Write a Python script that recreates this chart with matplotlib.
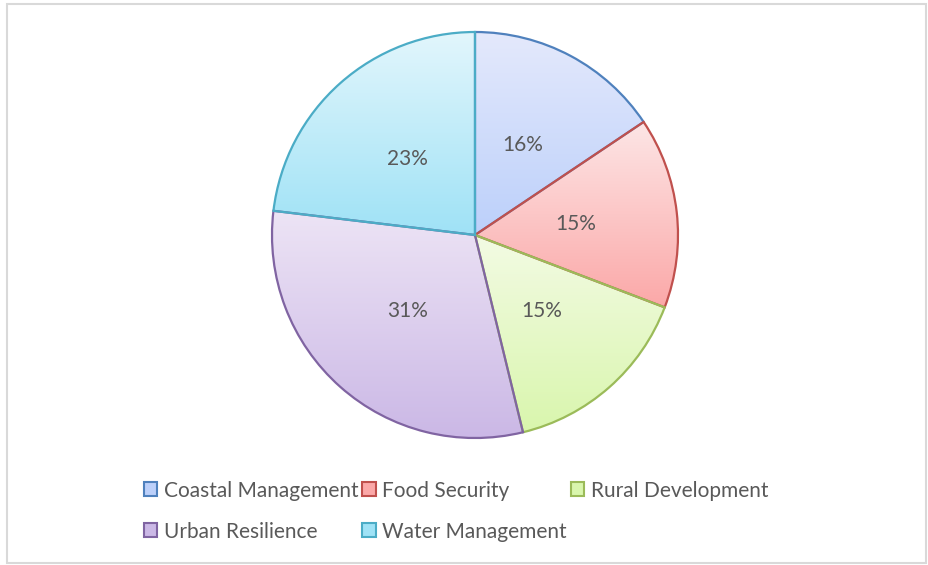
import numpy as np
import matplotlib.pyplot as plt
from matplotlib.colors import LinearSegmentedColormap
from matplotlib.patches import Rectangle, Patch

# Data
categories = ['Coastal Management', 'Food Security', 'Rural Development',
              'Urban Resilience', 'Water Management']
shares = [15.6, 15.2, 15.4, 30.7, 23.1]

# light top -> stronger bottom, plus outline colour
top_colors = ['#e4e9fc', '#fde6e6', '#f3fbe4', '#ede4f5', '#e2f6fc']
bottom_colors = ['#bcd0fa', '#fba8a8', '#d9f6ad', '#cbb8e6', '#9fe2f6']
edge_colors = ['#4f81bd', '#c0504d', '#9bbb59', '#8064a2', '#4bacc6']

W, H = 929, 565
fig = plt.figure(figsize=(W / 100, H / 100), dpi=100)
fig.patch.set_facecolor('white')

# chart border
fig.patches.append(Rectangle((7 / W, 1 - 563 / H), 919 / W, 559 / H,
                             transform=fig.transFigure, fill=False,
                             edgecolor='#d9d9d9', linewidth=1.5))

# pie centre ~ (475, 235), radius ~ 203 px
r = 203
ax = fig.add_axes([(475 - r) / W, 1 - (235 + r) / H, 2 * r / W, 2 * r / H])
wedges, texts = ax.pie(shares, startangle=90, counterclock=False,
                       colors=['none'] * 5, radius=1,
                       wedgeprops=dict(linewidth=0))
ax.set_xlim(-1, 1)
ax.set_ylim(-1, 1)
ax.set_aspect('equal')
ax.axis('off')

# gradient fill per slice
grad = np.linspace(0, 1, 256).reshape(-1, 1)
for i, w in enumerate(wedges):
    cmap = LinearSegmentedColormap.from_list('g%d' % i, [top_colors[i], bottom_colors[i]])
    path = w.get_path().transformed(w.get_transform())
    bb = path.get_extents().transformed(ax.transData.inverted())
    im = ax.imshow(grad, cmap=cmap, aspect='auto', origin='upper',
                   extent=[bb.x0, bb.x1, bb.y0, bb.y1], zorder=1)
    im.set_clip_path(w)
    w.set_edgecolor(edge_colors[i])
    w.set_linewidth(1.6)
    w.set_zorder(2)

# percentage labels
angle = 90.0
for i, v in enumerate(shares):
    mid = np.deg2rad(angle - v * 3.6 / 2)
    angle -= v * 3.6
    ax.text(0.5 * np.cos(mid), 0.5 * np.sin(mid), '%.0f%%' % v,
            ha='center', va='center', fontsize=15, color='#595959',
            family='Lato', zorder=3)

# legend, row-wise order via column filling
handles = [Patch(facecolor=bottom_colors[i], edgecolor=edge_colors[i], linewidth=1.5)
           for i in range(5)]
order = [0, 3, 1, 4, 2]
fig.legend([handles[i] for i in order], [categories[i] for i in order],
           ncol=3, loc='upper left', bbox_to_anchor=(125 / W, 1 - 462 / H),
           frameon=False, prop={'family': 'Lato', 'size': 15},
           labelcolor='#595959', handlelength=0.65, handleheight=0.65,
           handletextpad=0.3, columnspacing=0.2, labelspacing=1.0)

fig.savefig('out.png', dpi=100)
